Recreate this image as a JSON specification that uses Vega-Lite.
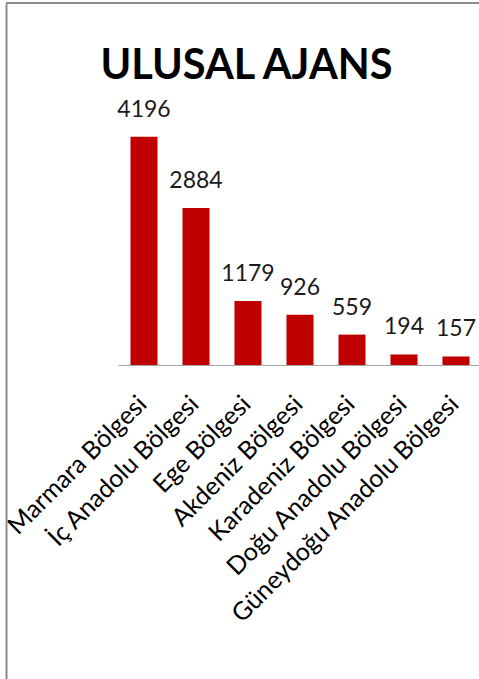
{
  "$schema": "https://vega.github.io/schema/vega-lite/v6.json",
  "width": 473,
  "height": 676,
  "autosize": {"type": "none"},
  "padding": {"left": 6, "top": 3, "right": 0, "bottom": 0},
  "background": "white",
  "config": {"view": {"stroke": null}},
  "title": {
    "text": "ULUSAL AJANS",
    "font": "Lato",
    "fontSize": 41.5,
    "fontWeight": "bold",
    "color": "#000000",
    "anchor": "middle",
    "frame": "group",
    "orient": "top",
    "baseline": "alphabetic",
    "offset": -118,
    "dx": 4
  },
  "data": {
    "values": [
      {"region": "Marmara Bölgesi", "value": 4196},
      {"region": "İç Anadolu Bölgesi", "value": 2884},
      {"region": "Ege Bölgesi", "value": 1179},
      {"region": "Akdeniz Bölgesi", "value": 926},
      {"region": "Karadeniz Bölgesi", "value": 559},
      {"region": "Doğu Anadolu Bölgesi", "value": 194},
      {"region": "Güneydoğu Anadolu Bölgesi", "value": 157}
    ]
  },
  "layer": [
    {
      "mark": {"type": "bar", "color": "#C00000"},
      "encoding": {
        "x": {
          "field": "region",
          "type": "nominal",
          "sort": null,
          "scale": {"range": [112, 476], "paddingInner": 0.48, "paddingOuter": 0.24},
          "axis": {
            "orient": "bottom",
            "offset": -314,
            "title": null,
            "ticks": false,
            "domainColor": "#a6a6a6",
            "domainWidth": 1,
            "labelAngle": -45,
            "labelAlign": "right",
            "labelBaseline": "top",
            "labelPadding": 26,
            "labelOffset": -10,
            "labelFont": "Lato",
            "labelFontSize": 25,
            "labelColor": "#000000",
            "labelLimit": 0,
            "labelOverlap": false
          }
        },
        "y": {
          "field": "value",
          "type": "quantitative",
          "scale": {"domain": [-5771, 6654], "nice": false, "zero": false},
          "axis": {
            "orient": "left",
            "title": null,
            "labels": false,
            "ticks": false,
            "grid": false,
            "domainColor": "#8c8c8c",
            "domainWidth": 2
          }
        }
      }
    },
    {
      "mark": {"type": "text", "baseline": "alphabetic", "dy": -20, "font": "Lato", "fontSize": 23, "color": "#1a1a1a"},
      "encoding": {
        "x": {"field": "region", "type": "nominal", "sort": null},
        "y": {"field": "value", "type": "quantitative"},
        "text": {"field": "value", "type": "quantitative"}
      }
    },
    {
      "data": {"values": [{"edge": 6654}]},
      "mark": {"type": "rule", "color": "#8c8c8c", "strokeWidth": 2},
      "encoding": {
        "y": {"field": "edge", "type": "quantitative"}
      }
    }
  ]
}
